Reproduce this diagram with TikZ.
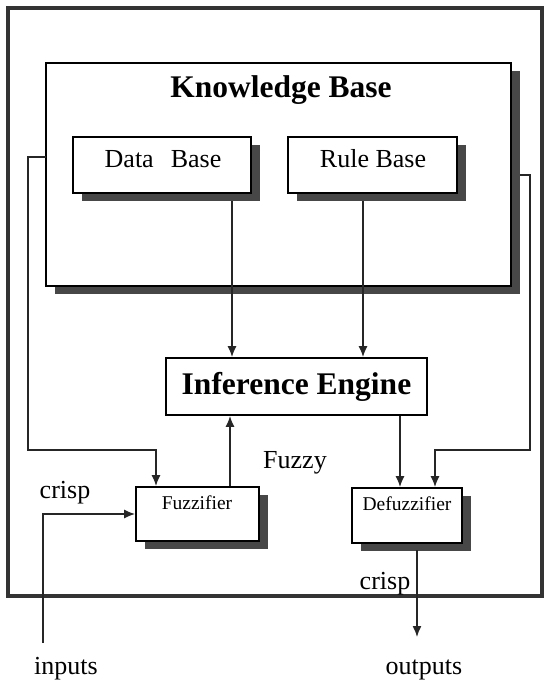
\documentclass[tikz,border=0pt]{standalone}
\usepackage{fontspec}
\setmainfont{Liberation Serif}
\usetikzlibrary{arrows.meta,calc,shadows}
\begin{document}
\begin{tikzpicture}[x=1pt,y=-1pt,
  frame/.style={draw=black!80, line width=4.5pt, inner sep=0pt},
  box/.style={draw=black, line width=1.8pt, fill=white, inner sep=0pt},
  shbox/.style={box, drop shadow={shadow xshift=9pt, shadow yshift=-8pt, fill=black!72, opacity=1}},
  conn/.style={line width=1.4pt, draw=black!85},
  arr/.style={conn, -{Latex[length=11pt,width=9pt]}},
  lab/.style={anchor=base, inner sep=0pt, font=\fontsize{26}{30}\selectfont},
  title/.style={anchor=base, inner sep=0pt, font=\fontsize{31.5}{36}\selectfont\bfseries},
  small/.style={anchor=base, inner sep=0pt, font=\fontsize{19.5}{23}\selectfont}]
\useasboundingbox (0,0) rectangle (545,685);
% system frame
\node[frame, minimum width=534pt, minimum height=588pt] (sys) at (275,302) {};
% knowledge base
\node[shbox, minimum width=465pt, minimum height=223pt] (kb) at (278.5,174.5) {};
\node[title] (kbt) at (281,97) {Knowledge Base};
\node[shbox, minimum width=178pt, minimum height=56pt] (db) at (162,165) {};
\node[lab] (dbt) at (163,167) {Data\hspace{17pt}Base};
\node[shbox, minimum width=169pt, minimum height=56pt] (rb) at (372.5,165) {};
\node[lab] (rbt) at (373,167) {Rule Base};
% inference engine
\node[box, minimum width=261pt, minimum height=57pt] (ie) at (296.5,386.5) {};
\node[title] (iet) at (296.5,394) {Inference Engine};
% fuzzifier / defuzzifier
\node[shbox, minimum width=123pt, minimum height=54pt] (fz) at (197.5,514) {};
\node[small] (fzt) at (197,509) {Fuzzifier};
\node[shbox, minimum width=110pt, minimum height=55pt] (df) at (407,515.5) {};
\node[small] (dft) at (407,510) {Defuzzifier};
% labels
\node[lab] (fuzzy) at (295,468) {Fuzzy};
\node[lab] (crispin) at (65,498) {crisp};
\node[lab] (crispout) at (385,589) {crisp};
\node[lab] (inputs) at (66,674) {inputs};
\node[lab] (outputs) at (424,674) {outputs};
% coordinates
\coordinate (dbo) at (232,201);
\coordinate (rbo) at (363,201);
\coordinate (kbl) at (46,157);
\coordinate (kbr) at (520,175);
\coordinate (inp) at (43,643);
\coordinate (outp) at (417,637);
% connectors
\draw[arr] (dbo) -- (dbo |- ie.north);
\draw[arr] (rbo) -- (rbo |- ie.north);
\draw[arr] (fz.north -| 230,0) -- (230,0 |- ie.south);
\draw[arr] (ie.south -| 400,0) -- (400,0 |- df.north);
\draw[arr] (kbl) -- (28,157) -- (28,450) -- (156,450) -- (156,0 |- fz.north);
\draw[arr] (kbr) -- (530,175) -- (530,450) -- (435,450) -- (435,0 |- df.north);
\draw[arr] (inp) -- (43,514) -- (fz.west |- 0,514);
\draw[arr] (417,550) -- (outp);
\end{tikzpicture}
\end{document}
